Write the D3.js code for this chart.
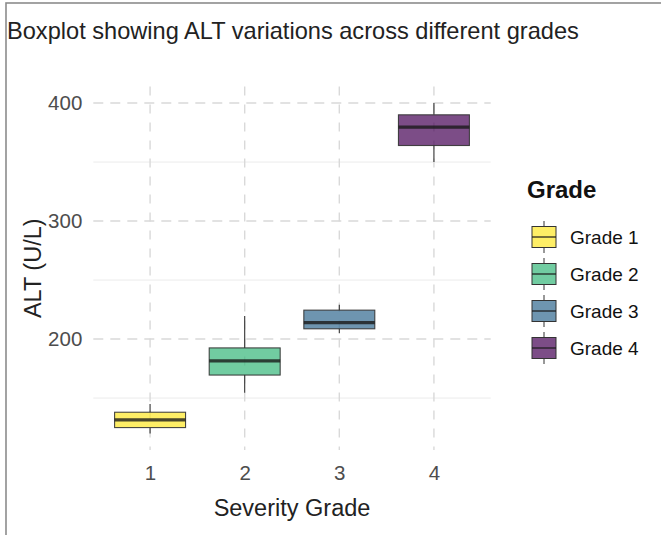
<!DOCTYPE html>
<html>
<head>
<meta charset="utf-8">
<script src="https://cdn.jsdelivr.net/npm/d3@7/dist/d3.min.js"></script>
<style>
  html, body { margin: 0; padding: 0; background: #fff; }
  svg { display: block; font-family: "Liberation Sans", Arial, sans-serif; }
</style>
</head>
<body>
<svg id="chart" width="661" height="535"></svg>
<script>
// ---- data ----
const grades = ["1", "2", "3", "4"];
const gradeLabels = ["Grade 1", "Grade 2", "Grade 3", "Grade 4"];
const whiskerLow  = [120, 154.5, 205, 350];
const q1          = [125, 169.5, 208.7, 364];
const medians     = [131.5, 181.5, 214, 379.5];
const q3          = [138, 192.5, 224.5, 390];
const whiskerHigh = [145, 219.5, 229, 400];
const majorTicks = [200, 300, 400];
const minorTicks = [150, 250, 350];
const colors = ["#FDE725", "#35B779", "#31688E", "#440154"];

const titleText = "Boxplot showing ALT variations across different grades";
const xTitle = "Severity Grade";
const yTitle = "ALT (U/L)";
const legendTitle = "Grade";

// ---- layout ----
const svg = d3.select("#chart");
const panel = { left: 93.3, right: 490.7, top: 86.5, bottom: 450 };

// frame
svg.append("rect").attr("x", 6).attr("y", 3).attr("width", 700).attr("height", 600)
  .attr("fill", "#fff").attr("stroke", "#8c8c8c").attr("stroke-width", 1.6);

const x = d3.scalePoint().domain(grades).range([panel.left, panel.right]).padding(0.6);
const step = x.step();
const lo = d3.min(whiskerLow), hi = d3.max(whiskerHigh);
const pad = (hi - lo) * 0.05;
const y = d3.scaleLinear().domain([lo - pad, hi + pad]).range([panel.bottom, panel.top]);

// grid: minor
svg.append("g").selectAll("line").data(minorTicks).join("line")
  .attr("x1", panel.left).attr("x2", panel.right)
  .attr("y1", d => y(d)).attr("y2", d => y(d))
  .attr("stroke", "#ebebeb").attr("stroke-width", 1);
// grid: major horizontal dashed
svg.append("g").selectAll("line").data(majorTicks).join("line")
  .attr("x1", panel.left).attr("x2", panel.right)
  .attr("y1", d => y(d)).attr("y2", d => y(d))
  .attr("stroke", "#d9d9d9").attr("stroke-width", 1.4).attr("stroke-dasharray", "10,7");
// grid: vertical dashed
svg.append("g").selectAll("line").data(grades).join("line")
  .attr("x1", d => x(d)).attr("x2", d => x(d))
  .attr("y1", panel.top).attr("y2", panel.bottom)
  .attr("stroke", "#d9d9d9").attr("stroke-width", 1.4).attr("stroke-dasharray", "9,9");

// boxes
const boxW = step * 0.75;
const boxes = grades.map((g, i) => ({ g, i, lo: whiskerLow[i], q1: q1[i], med: medians[i], q3: q3[i], hi: whiskerHigh[i], c: colors[i] }));
const bg = svg.append("g").selectAll("g").data(boxes).join("g");
bg.append("line").attr("x1", d => x(d.g)).attr("x2", d => x(d.g))
  .attr("y1", d => y(d.hi)).attr("y2", d => y(d.q3)).attr("stroke", "#333").attr("stroke-width", 1.1);
bg.append("line").attr("x1", d => x(d.g)).attr("x2", d => x(d.g))
  .attr("y1", d => y(d.q1)).attr("y2", d => y(d.lo)).attr("stroke", "#333").attr("stroke-width", 1.1);
bg.append("rect").attr("x", d => x(d.g) - boxW / 2).attr("width", boxW)
  .attr("y", d => y(d.q3)).attr("height", d => y(d.q1) - y(d.q3))
  .attr("fill", d => d.c).attr("fill-opacity", 0.7)
  .attr("stroke", "#333").attr("stroke-opacity", 0.9).attr("stroke-width", 1.1);
bg.append("line").attr("x1", d => x(d.g) - boxW / 2).attr("x2", d => x(d.g) + boxW / 2)
  .attr("y1", d => y(d.med)).attr("y2", d => y(d.med))
  .attr("stroke", "#1a1a1a").attr("stroke-opacity", 0.8).attr("stroke-width", 3.2);

// axes (labels only)
const yAxis = svg.append("g").attr("transform", `translate(${panel.left},0)`)
  .call(d3.axisLeft(y).tickValues(majorTicks).tickSize(0).tickPadding(11));
yAxis.select(".domain").remove();
yAxis.selectAll("text").attr("font-size", 20.5).attr("fill", "#4d4d4d")
  .attr("font-family", "Liberation Sans, Arial, sans-serif");

const xAxis = svg.append("g").attr("transform", `translate(0,${panel.bottom})`)
  .call(d3.axisBottom(x).tickSize(0).tickPadding(15));
xAxis.select(".domain").remove();
xAxis.selectAll("text").attr("font-size", 20.5).attr("fill", "#4d4d4d")
  .attr("font-family", "Liberation Sans, Arial, sans-serif");

// titles
svg.append("text").attr("x", 7).attr("y", 39).attr("font-size", 23.6).attr("fill", "#222")
  .text(titleText);
svg.append("text").attr("x", (panel.left + panel.right) / 2).attr("y", 516)
  .attr("text-anchor", "middle").attr("font-size", 23.5).attr("fill", "#222").text(xTitle);
svg.append("text").attr("transform", `translate(41,${(panel.top + panel.bottom) / 2}) rotate(-90)`)
  .attr("text-anchor", "middle").attr("font-size", 23.5).attr("fill", "#222").text(yTitle);

// legend
const lg = svg.append("g");
lg.append("text").attr("x", 527).attr("y", 198).attr("font-size", 24).attr("font-weight", "bold")
  .attr("fill", "#111").text(legendTitle);
const keys = lg.selectAll("g.key").data(boxes).join("g").attr("class", "key")
  .attr("transform", d => `translate(532,${237 + d.i * 37})`);
keys.append("line").attr("x1", 12).attr("x2", 12).attr("y1", -16).attr("y2", 16)
  .attr("stroke", "#333").attr("stroke-width", 1);
keys.append("rect").attr("x", 0).attr("y", -10.5).attr("width", 24).attr("height", 21)
  .attr("fill", "#fff");
keys.append("rect").attr("x", 0).attr("y", -10.5).attr("width", 24).attr("height", 21)
  .attr("fill", d => d.c).attr("fill-opacity", 0.7).attr("stroke", "#333").attr("stroke-width", 1);
keys.append("line").attr("x1", 0).attr("x2", 24).attr("y1", 0).attr("y2", 0)
  .attr("stroke", "#1a1a1a").attr("stroke-opacity", 0.8).attr("stroke-width", 1.5);
keys.append("text").attr("x", 38).attr("y", 0).attr("dy", "0.36em").attr("font-size", 19)
  .attr("fill", "#111").text(d => gradeLabels[d.i]);
</script>
</body>
</html>
